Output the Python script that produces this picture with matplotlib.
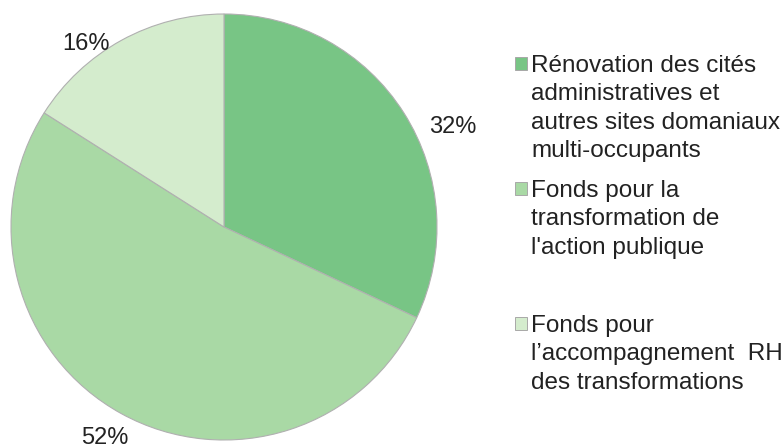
import matplotlib
matplotlib.use("Agg")
import matplotlib.pyplot as plt
from matplotlib.patches import Rectangle

categories = [
    "Rénovation des cités\nadministratives et\nautres sites domaniaux\nmulti-occupants",
    "Fonds pour la\ntransformation de\nl'action publique",
    "Fonds pour\nl\u2019accompagnement  RH\ndes transformations",
]
values = [32, 52, 16]
pct_labels = ["32%", "52%", "16%"]
colors = ["#78c585", "#a9d9a5", "#d4eccd"]

W, H = 782, 448
fig = plt.figure(figsize=(W / 100, H / 100), dpi=100)
plt.rcParams['font.family'] = ['Liberation Sans', 'DejaVu Sans']

cx, cy, r = 224, 227, 213
ax = fig.add_axes([(cx - r) / W, (H - cy - r) / H, 2 * r / W, 2 * r / H])
ax.pie(values, colors=colors, startangle=90, counterclock=False,
       wedgeprops=dict(edgecolor="#b0b0b0", linewidth=0.8))
ax.set_xlim(-1, 1)
ax.set_ylim(-1, 1)
ax.set_aspect("equal")
ax.axis("off")

def fx(x):
    return x / W

def fy(y):
    return 1 - y / H

label_pos = [(453, 127), (105, 438), (86, 44)]
for txt, (px, py) in zip(pct_labels, label_pos):
    fig.text(fx(px), fy(py), txt, ha="center", va="center", fontsize=17, color="#222222")

sq_top = [57, 182, 317]
base_y = [72, 197, 332]
step = 28.3
for lab, col, st, by in zip(categories, colors, sq_top, base_y):
    fig.patches.append(Rectangle((fx(515), fy(st + 13)), 12 / W, 13 / H, transform=fig.transFigure,
                                 facecolor=col, edgecolor="#a8a8a8", linewidth=0.7))
    lines = lab.split("\n")
    for i, line in enumerate(lines):
        fig.text(fx(531), fy(by + i * step), line, ha="left", va="baseline", fontsize=17.5,
                 color="#222222")

fig.savefig("out.png", dpi=100)
